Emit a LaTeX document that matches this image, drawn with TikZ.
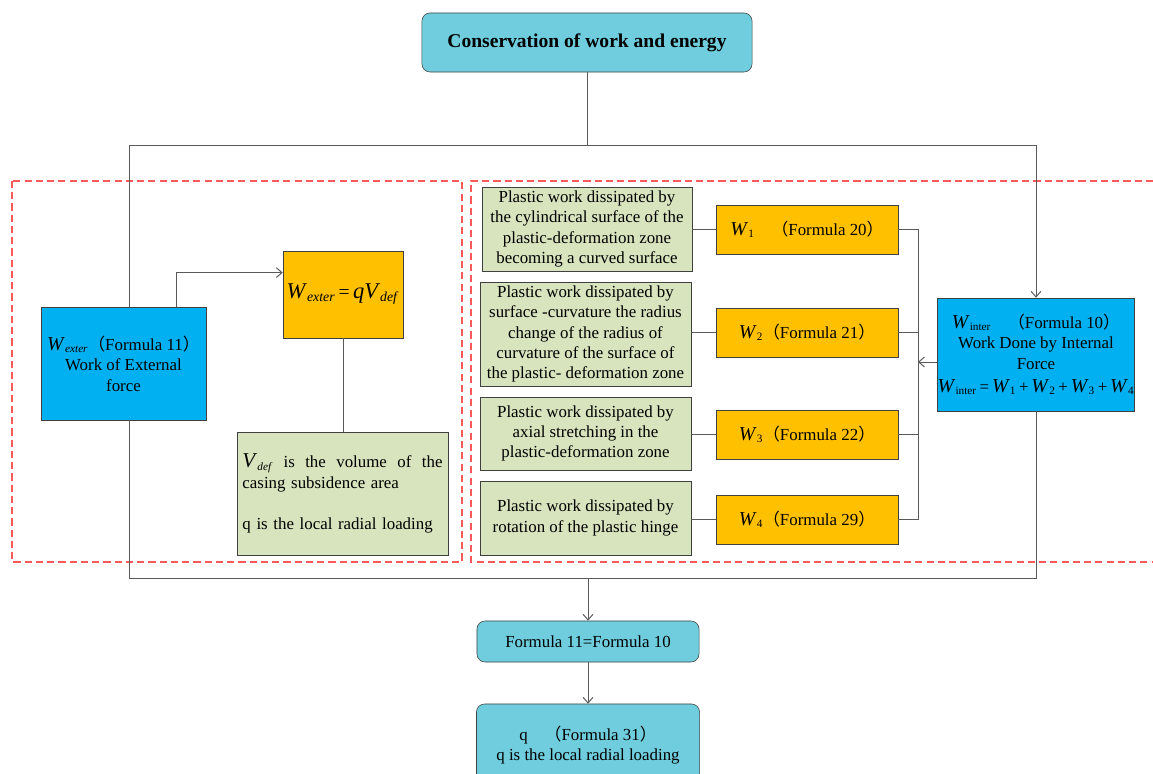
\documentclass[tikz,border=0pt]{standalone}
\usepackage{fontspec}
\setmainfont{Liberation Serif}
\newfontfamily\cjk{Noto Sans CJK SC}
\usetikzlibrary{arrows.meta, positioning, calc}

\definecolor{titlebg}{RGB}{112,205,221}
\definecolor{bluebg}{RGB}{0,176,240}
\definecolor{orangebg}{RGB}{255,192,0}
\definecolor{greenbg}{RGB}{215,228,189}
\definecolor{boxline}{RGB}{64,64,64}
\definecolor{wiregray}{RGB}{90,90,90}
\definecolor{zonered}{RGB}{255,90,90}

\newcommand{\fopen}{{\cjk （}}
\newcommand{\fclose}{{\cjk ）}}
\newcommand{\bigW}{{\fontsize{14}{14}\selectfont\textit{W}}}
\newcommand{\Wv}[1]{\bigW\textsubscript{\textit{#1}}}
\newcommand{\Wn}[1]{\bigW\textsubscript{#1}}

\begin{document}
\begin{tikzpicture}[x=0.025cm, y=-0.025cm, >={Straight Barb[length=4pt,width=7pt]}, font=\fontsize{12}{14.5}\selectfont]
    \tikzstyle{box} = [draw=boxline, inner sep=0pt, align=center]
    \tikzstyle{rbox} = [box, fill=titlebg, rounded corners=0.2cm]
    \tikzstyle{greenbox} = [box, fill=greenbg, minimum width=5.275cm]
    \tikzstyle{orangebox} = [box, fill=orangebg, minimum width=4.55cm, minimum height=1.225cm]
    \tikzstyle{wire} = [draw=wiregray, line width=0.7pt]
    \tikzstyle{zone} = [draw=zonered, dash pattern=on 5pt off 3pt, line width=0.8pt]

    \useasboundingbox (0,0) rectangle (1153,774);

    % Dashed zones
    \draw [zone] (12,181) rectangle (462,562);
    \draw [zone] (1153,181) -| (471,562) -- (1153,562);

    % Top
    \node [rbox, minimum width=8.25cm, minimum height=1.475cm, font=\fontsize{13.9}{16}\selectfont\bfseries] (top) at (587,42.5) {Conservation of work and energy};

    % External work
    \node [box, fill=bluebg, minimum width=4.125cm, minimum height=2.825cm] (ext) at (123.5,363.5) {\Wv{exter}\fopen Formula 11\fclose\\ Work of External\\ force};
    \node [box, fill=orangebg, minimum width=3cm, minimum height=2.175cm, font=\fontsize{14}{18}\selectfont] (wexter) at (343,294.5) {{\fontsize{16}{16}\selectfont\textit{W}}\textsubscript{\textit{exter}}\,=\,{\fontsize{16}{16}\selectfont\textit{qV}}\textsubscript{\textit{def}}};
    \node [greenbox, minimum height=3.075cm, text width=5.0cm, align=left] (vdef) at (342.5,493.5) {{\fontsize{15}{14.5}\selectfont\textit{V}}\textsubscript{\textit{def}}\hfill is\hfill the\hfill volume\hfill of\hfill the\\ casing subsidence area\\[14.5pt] q is the local radial loading};

    % Internal work
    \node [greenbox, minimum width=5.25cm, minimum height=2.1cm] (g1) at (587,229) {Plastic work dissipated by\\ the cylindrical surface of the\\ plastic-deformation zone\\ becoming a curved surface};
    \node [greenbox, minimum height=2.6cm] (g2) at (585.5,334) {Plastic work dissipated by\\ surface -curvature the radius\\ change of the radius of\\ curvature of the surface of\\ the plastic- deformation zone};
    \node [greenbox, minimum height=1.825cm] (g3) at (585.5,433.5) {Plastic work dissipated by\\ axial stretching in the\\ plastic-deformation zone};
    \node [greenbox, minimum height=1.85cm] (g4) at (585.5,518) {Plastic work dissipated by\\ rotation of the plastic hinge};

    \node [orangebox] (o1) at (807,229.5) {\Wn{1}\quad\fopen Formula 20\fclose};
    \node [orangebox] (o2) at (807,332.5) {\Wn{2}\fopen Formula 21\fclose};
    \node [orangebox] (o3) at (807,434.5) {\Wn{3}\fopen Formula 22\fclose};
    \node [orangebox] (o4) at (807,519.5) {\Wn{4}\fopen Formula 29\fclose};

    \node [box, fill=bluebg, minimum width=4.8cm, minimum height=2.825cm] (inter) at (1036,354.5) {\Wn{inter}\quad\fopen Formula 10\fclose\\ Work Done by Internal\\ Force\\[2pt] \Wn{inter}\,=\,\Wn{1}\,+\,\Wn{2}\,+\,\Wn{3}\,+\,\Wn{4}};

    % Result
    \node [rbox, minimum width=5.55cm, minimum height=1.025cm] (eq) at (588,641.5) {Formula 11=Formula 10};
    \node [rbox, minimum width=5.575cm, minimum height=2.05cm] (final) at (588,745) {q\quad\fopen Formula 31\fclose\\ q is the local radial loading};

    % Frame
    \coordinate (tl) at (129,145);
    \coordinate (tr) at (1036,145);
    \coordinate (bl) at (129,578);
    \coordinate (br) at (1036,578);
    \coordinate (bus) at (918,362);

    % Connections
    \draw [wire] (top.south) -- (top.south |- tl);
    \draw [wire] (ext.north -| tl) -- (tl) -- (tr);
    \draw [wire, ->] (tr) -- (inter.north);
    \draw [wire] (ext.south -| bl) -- (bl) -- (br) -- (inter.south -| br);
    \draw [wire, ->] (eq.north |- bl) -- (eq.north);
    \draw [wire, ->] (eq.south) -- (final.north);

    \draw [wire, ->] ($(ext.north west)!0.82!(ext.north east)$) |- ($(wexter.north west)!0.25!(wexter.south west)$);
    \draw [wire] (wexter.south) -- (wexter.south |- vdef.north);

    \draw [wire] (g1.east |- o1.west) -- (o1.west);
    \draw [wire] (g2.east |- o2.west) -- (o2.west);
    \draw [wire] (g3.east |- o3.west) -- (o3.west);
    \draw [wire] (g4.east |- o4.west) -- (o4.west);

    \draw [wire] (o1.east) -- (o1.east -| bus) -- (o4.east -| bus) -- (o4.east);
    \draw [wire] (o2.east) -- (o2.east -| bus);
    \draw [wire] (o3.east) -- (o3.east -| bus);
    \draw [wire, ->] (inter.west |- bus) -- (bus);
\end{tikzpicture}
\end{document}
